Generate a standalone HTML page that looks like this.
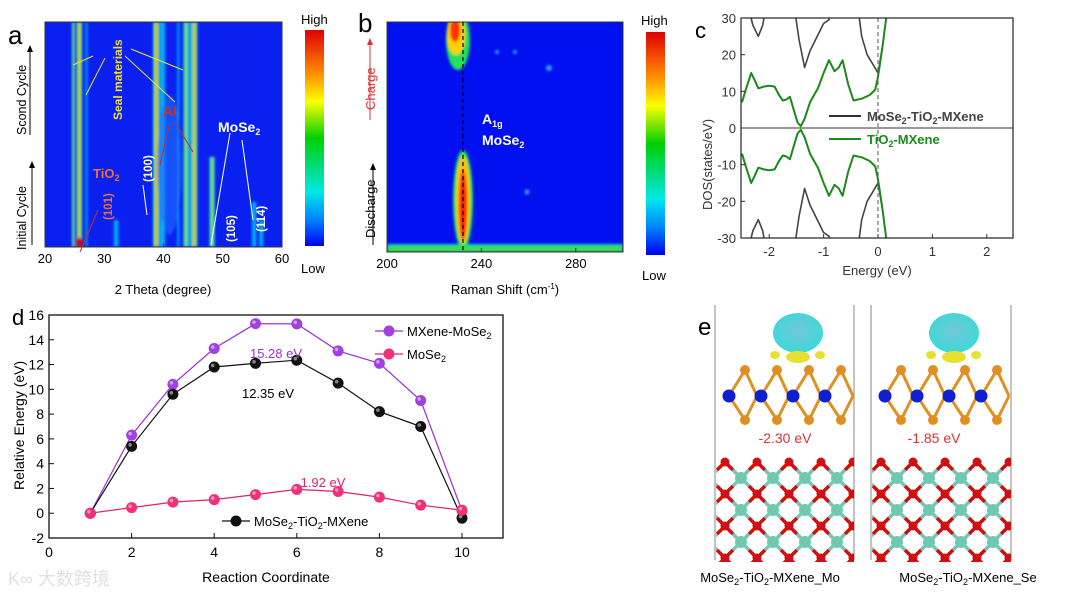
<!DOCTYPE html>
<html><head><meta charset="utf-8">
<style>
body{margin:0;background:#fff;width:1080px;height:597px;overflow:hidden;font-family:"Liberation Sans","Noto Sans CJK SC",sans-serif}
svg text{font-family:"Liberation Sans","Noto Sans CJK SC",sans-serif}
</style></head>
<body>
<svg id="fig" width="1080" height="597" viewBox="0 0 1080 597" xmlns="http://www.w3.org/2000/svg">
<defs>
<linearGradient id="cbar" x1="0" y1="0" x2="0" y2="1">
<stop offset="0" stop-color="#e00000"/><stop offset="0.2" stop-color="#ff8c00"/><stop offset="0.33" stop-color="#ffff00"/><stop offset="0.5" stop-color="#00d000"/><stop offset="0.75" stop-color="#00e8e8"/><stop offset="0.88" stop-color="#0080ff"/><stop offset="1" stop-color="#0000f0"/>
</linearGradient>
<linearGradient id="hot" x1="0" y1="0" x2="1" y2="0">
<stop offset="0" stop-color="#00d0ff"/><stop offset="0.25" stop-color="#40ff40"/><stop offset="0.4" stop-color="#ffd000"/><stop offset="0.5" stop-color="#e00000"/><stop offset="0.6" stop-color="#ffd000"/><stop offset="0.75" stop-color="#40ff40"/><stop offset="1" stop-color="#00d0ff"/>
</linearGradient>
<linearGradient id="warm" x1="0" y1="0" x2="1" y2="0">
<stop offset="0" stop-color="#00c0ff"/><stop offset="0.35" stop-color="#40e060"/><stop offset="0.5" stop-color="#e0e000"/><stop offset="0.65" stop-color="#40e060"/><stop offset="1" stop-color="#00c0ff"/>
</linearGradient>
<linearGradient id="cyan" x1="0" y1="0" x2="1" y2="0">
<stop offset="0" stop-color="#0040ff"/><stop offset="0.5" stop-color="#00d8f0"/><stop offset="1" stop-color="#0040ff"/>
</linearGradient>
<radialGradient id="iso" cx="0.5" cy="0.45" r="0.55"><stop offset="0" stop-color="#70c8d8"/><stop offset="1" stop-color="#3ed8d8"/></radialGradient>
<filter id="blur"><feGaussianBlur stdDeviation="1.2"/></filter>
<clipPath id="clipA"><rect x="45" y="22" width="237" height="225"/></clipPath>
<clipPath id="clipB"><rect x="387" y="22" width="236" height="230"/></clipPath>
<clipPath id="clipC"><rect x="741" y="18" width="272" height="220"/></clipPath>
<clipPath id="clipE0"><rect x="716" y="450" width="138" height="112"/></clipPath>
<clipPath id="clipE1"><rect x="872" y="450" width="139" height="112"/></clipPath>
</defs>

<!-- ================= Panel a ================= -->
<g id="panelA">
<text x="8" y="44" font-size="26">a</text>
<rect x="45" y="22" width="237" height="225" fill="#0a20f0"/>
<g id="streaksA" clip-path="url(#clipA)" filter="url(#blur)"></g>
<rect x="45" y="22" width="237" height="225" fill="none" stroke="#333" stroke-width="1"/>
<g id="axisA"></g>
<text x="163" y="294" font-size="13" text-anchor="middle">2 Theta (degree)</text>
<text transform="translate(26,250) rotate(-90)" font-size="12.5">Initial Cycle</text>
<text transform="translate(26,135) rotate(-90)" font-size="12.5">Scond Cycle</text>
<line x1="32" y1="245" x2="32" y2="168" stroke="#000" stroke-width="1"/><polygon points="29,168 35,168 32,161" fill="#000"/>
<line x1="30" y1="135" x2="30" y2="52" stroke="#000" stroke-width="1"/><polygon points="27,52 33,52 30,45" fill="#000"/>
<g stroke="#e8e040" stroke-width="1" fill="#e8e040">
<line x1="73" y1="65" x2="93" y2="56"/><line x1="86" y1="95" x2="105" y2="58"/><line x1="183" y1="70" x2="131" y2="49"/><line x1="175" y1="102" x2="125" y2="56"/>
</g>
<text transform="translate(122,120) rotate(-90)" font-size="12" font-weight="bold" fill="#f0e030">Seal materials</text>
<text x="163" y="116" font-size="14" font-weight="bold" fill="#d03020">Al</text>
<g stroke="#c03028" stroke-width="1"><line x1="160" y1="165" x2="170" y2="122"/><line x1="193" y1="152" x2="175" y2="122"/><line x1="80" y1="252" x2="98" y2="210"/></g>
<text x="93" y="178" font-size="13" font-weight="bold" fill="#f07030">TiO<tspan font-size="9" dy="3">2</tspan></text>
<text transform="translate(112,220) rotate(-90)" font-size="11.5" font-weight="bold" fill="#f07030">(101)</text>
<text transform="translate(152,182) rotate(-90)" font-size="11.5" font-weight="bold" fill="#fff">(100)</text>
<text x="218" y="132" font-size="14" font-weight="bold" fill="#fff">MoSe<tspan font-size="9" dy="3">2</tspan></text>
<text transform="translate(235,242) rotate(-90)" font-size="11.5" font-weight="bold" fill="#fff">(105)</text>
<text transform="translate(265,232) rotate(-90)" font-size="11.5" font-weight="bold" fill="#fff">(114)</text>
<g stroke="#fff" stroke-width="1"><line x1="147" y1="215" x2="143" y2="185"/><line x1="211" y1="245" x2="230" y2="133"/><line x1="253" y1="220" x2="242" y2="140"/></g>
<rect x="305" y="30" width="19" height="216" fill="url(#cbar)"/>
<text x="301" y="24" font-size="13">High</text>
<text x="301" y="273" font-size="13">Low</text>
</g>

<!-- ================= Panel b ================= -->
<g id="panelB">
<text x="358" y="32" font-size="26">b</text>
<rect x="387" y="22" width="236" height="230" fill="#0010f0"/>
<g clip-path="url(#clipB)" filter="url(#blur)">
<rect x="387" y="244" width="236" height="8" fill="#20d0a0"/>
<rect x="387" y="247" width="236" height="5" fill="#40e040"/>
<ellipse cx="458" cy="40" rx="12" ry="30" fill="#20e060"/>
<ellipse cx="456" cy="35" rx="9" ry="20" fill="#ffd000"/>
<ellipse cx="455" cy="30" rx="5" ry="12" fill="#ff3000"/>
<ellipse cx="463" cy="200" rx="10" ry="50" fill="#20e060"/>
<ellipse cx="463" cy="200" rx="7" ry="44" fill="#ffc000"/>
<ellipse cx="463" cy="205" rx="4" ry="35" fill="#ff2000"/>
<circle cx="497" cy="52" r="2" fill="#30a0ff"/><circle cx="515" cy="52" r="2" fill="#30a0ff"/><circle cx="549" cy="68" r="3" fill="#30a0ff"/><circle cx="527" cy="192" r="2.5" fill="#30a0ff"/>
</g>
<rect x="387" y="22" width="236" height="230" fill="none" stroke="#333"/>
<line x1="463" y1="22" x2="463" y2="250" stroke="#000" stroke-width="1.2" stroke-dasharray="4,3"/>
<g id="axisB"></g>
<text x="505" y="294" font-size="13" text-anchor="middle">Raman Shift (cm<tspan font-size="8" dy="-5">-1</tspan><tspan dy="5">)</tspan></text>
<text x="482" y="124" font-size="14" font-weight="bold" fill="#fff">A<tspan font-size="9" dy="3">1g</tspan></text>
<text x="482" y="145" font-size="14" font-weight="bold" fill="#fff">MoSe<tspan font-size="9" dy="3">2</tspan></text>
<text transform="translate(375,110) rotate(-90)" font-size="13" fill="#e03030">Charge</text>
<line x1="370" y1="120" x2="370" y2="45" stroke="#e03030"/><polygon points="367,45 373,45 370,38" fill="#e03030"/>
<text transform="translate(375,238) rotate(-90)" font-size="13">Discharge</text>
<line x1="373" y1="245" x2="373" y2="170" stroke="#000"/><polygon points="370,170 376,170 373,163" fill="#000"/>
<rect x="646" y="32" width="19" height="223" fill="url(#cbar)"/>
<text x="641" y="25" font-size="13">High</text>
<text x="642" y="280" font-size="13">Low</text>
</g>

<!-- ================= Panel c ================= -->
<g id="panelC">
<text x="695" y="38" font-size="22">c</text>
<g id="curvesC" clip-path="url(#clipC)"></g>
<rect x="741" y="18" width="272" height="220" fill="none" stroke="#222" stroke-width="1.2"/>
<g id="axisC"></g>
<text transform="translate(712,210) rotate(-90)" font-size="13" fill="#333">DOS(states/eV)</text>
<text x="877" y="275" font-size="13" text-anchor="middle" fill="#333">Energy (eV)</text>
<line x1="829" y1="116" x2="861" y2="116" stroke="#333" stroke-width="2"/>
<text x="867" y="121" font-size="13" font-weight="bold" fill="#444">MoSe<tspan font-size="9" dy="3">2</tspan><tspan dy="-3">-TiO</tspan><tspan font-size="9" dy="3">2</tspan><tspan dy="-3">-MXene</tspan></text>
<line x1="829" y1="139" x2="861" y2="139" stroke="#1a8a1a" stroke-width="2"/>
<text x="867" y="144" font-size="13" font-weight="bold" fill="#1a8a1a">TiO<tspan font-size="9" dy="3">2</tspan><tspan dy="-3">-MXene</tspan></text>
</g>

<!-- ================= Panel d ================= -->
<g id="panelD">
<text x="12" y="325" font-size="22">d</text>
<rect x="49" y="315" width="454" height="223" fill="none" stroke="#111" stroke-width="1.3"/>
<g id="axisD"></g>
<g id="seriesD"></g>
<text transform="translate(24,490) rotate(-90)" font-size="14">Relative Energy (eV)</text>
<text x="266" y="582" font-size="14" text-anchor="middle">Reaction Coordinate</text>
<text x="276" y="358" font-size="13" fill="#a030c0" text-anchor="middle">15.28 eV</text>
<text x="268" y="398" font-size="13" text-anchor="middle">12.35 eV</text>
<text x="323" y="487" font-size="13" fill="#e0206a" text-anchor="middle">1.92 eV</text>
<g>
<line x1="375" y1="331" x2="403" y2="331" stroke="#9a30d0" stroke-width="1.2"/><circle cx="389" cy="331" r="5.5" fill="#a040e0"/>
<text x="407" y="336" font-size="13">MXene-MoSe<tspan font-size="9" dy="3">2</tspan></text>
<line x1="375" y1="354" x2="403" y2="354" stroke="#e0206a" stroke-width="1.2"/><circle cx="389" cy="354" r="5.5" fill="#f0307a"/>
<text x="407" y="359" font-size="13">MoSe<tspan font-size="9" dy="3">2</tspan></text>
<line x1="222" y1="521" x2="250" y2="521" stroke="#111" stroke-width="1.2"/><circle cx="236" cy="521" r="5.5" fill="#111"/>
<text x="254" y="526" font-size="13">MoSe<tspan font-size="9" dy="3">2</tspan><tspan dy="-3">-TiO</tspan><tspan font-size="9" dy="3">2</tspan><tspan dy="-3">-MXene</tspan></text>
</g>
</g>

<!-- ================= Panel e ================= -->
<g id="panelE">
<text x="698" y="335" font-size="24">e</text>
<line x1="715" y1="305" x2="715" y2="560" stroke="#888"/><line x1="854" y1="305" x2="854" y2="560" stroke="#888"/>
<line x1="871" y1="305" x2="871" y2="560" stroke="#888"/><line x1="1011" y1="305" x2="1011" y2="560" stroke="#888"/>
<g id="structE"></g>
<text x="785" y="443" font-size="14" fill="#e03030" text-anchor="middle">-2.30 eV</text>
<text x="934" y="443" font-size="14" fill="#e03030" text-anchor="middle">-1.85 eV</text>
<text x="770" y="582" font-size="13" text-anchor="middle">MoSe<tspan font-size="9" dy="3">2</tspan><tspan dy="-3">-TiO</tspan><tspan font-size="9" dy="3">2</tspan><tspan dy="-3">-MXene_Mo</tspan></text>
<text x="968" y="582" font-size="13" text-anchor="middle">MoSe<tspan font-size="9" dy="3">2</tspan><tspan dy="-3">-TiO</tspan><tspan font-size="9" dy="3">2</tspan><tspan dy="-3">-MXene_Se</tspan></text>
</g>

<text x="8" y="585" font-size="18" fill="#e0e0e0">K∞ 大数跨境</text>
</svg>

<script>
const NS="http://www.w3.org/2000/svg";
function mk(parent,tag,attrs){const e=document.createElementNS(NS,tag);for(const k in attrs)e.setAttribute(k,attrs[k]);parent.appendChild(e);return e;}

// ---------- Panel d data ----------
const coordD=[1,2,3,4,5,6,7,8,9,10];
const mxeneMoSe2=[0,6.3,10.4,13.3,15.3,15.28,13.1,12.1,9.1,0.2];
const mose2TiO2MXene=[0,5.4,9.6,11.8,12.1,12.35,10.5,8.2,7.0,-0.4];
const mose2Only=[0,0.45,0.9,1.1,1.5,1.92,1.75,1.3,0.65,0.25];
const xTicksD=[0,2,4,6,8,10];
const yTicksD=[-2,0,2,4,6,8,10,12,14,16];

// ---------- Panel c data ----------
const energyGreen=[-2.5,-2.42,-2.33,-2.25,-2.2,-2.1,-2.0,-1.9,-1.82,-1.75,-1.68,-1.62,-1.55,-1.48,-1.42,-1.35,-1.25,-1.1,-1.0,-0.9,-0.8,-0.72,-0.65,-0.55,-0.45,-0.3,-0.15,-0.05,0,0.08,0.15];
const dosGreen=[7,11,15,12.5,10.8,11.3,11.5,11.3,9,7.5,7.8,8.5,5,1.5,0.5,2.5,7,11,15,18.5,15.5,16.5,18.5,12,7.5,8,9,10.5,14,22,30];
const energyBlack=[-2.4,-2.3,-2.2,-2.12,-2.05,-1.55,-1.45,-1.35,-1.25,-1.15,-1.0,-0.9,-0.85,-0.38,-0.3,-0.2,-0.1,0,0.08];
const dosBlack=[34,28,25,28,34,34,24,16.5,21,24,28.5,29.5,34,34,25,20,17.5,15,22];
const xTicksC=[-2,-1,0,1,2];
const yTicksC=[-30,-20,-10,0,10,20,30];

// ---------- Panel a/b tick data ----------
const xTicksA=[20,30,40,50,60];
const xTicksB=[200,240,280];
const streakPos=[24.8,25.8,27.0,32.0,38.8,39.8,42.5,43.8,45.2,48.2,55.3,56.5,44.5];
const streakWidth=[0.5,0.9,0.4,0.9,1.1,1.2,0.4,0.9,1.0,0.9,0.9,0.8,0.6];
const streakType=["warm","hot","cyan","cyan","hot","cyan","cyan","warm","hot","warm","cyan","cyan","cyan"];
const streakFrom=[0,0,0,0,0,0,0,0,0,0,0,0,0];
const streakTo=[1,1,1,0.12,1,1,1,1,1,0.4,0.2,0.12,1];

const xA=t=>45+(t-20)*237/40;
const xB=r=>387+(r-200)*236/100;
const xC=e=>878+e*54.4;
const yC=d=>128-d*220/60;
const xD=v=>49+v*41.3;
const yD=v=>538-(v+2)*223/18;

const sg=document.getElementById('streaksA');
streakPos.forEach((p,i)=>{
  const w=streakWidth[i]*237/40;
  const yTop=247-streakTo[i]*225, yBot=247-streakFrom[i]*225;
  const r=mk(sg,'rect',{x:xA(p)-w/2,y:yTop,width:w,height:yBot-yTop,fill:'url(#'+streakType[i]+')'});
  
  
});
mk(sg,'ellipse',{cx:xA(41),cy:165,rx:12,ry:70,fill:'#2070ff',opacity:0.6});
mk(sg,'ellipse',{cx:xA(25.8),cy:243,rx:3,ry:6,fill:'#e00000'});

function xTicks(gid,ticks,fx,y0,len,fs,color){
  const g=document.getElementById(gid);
  ticks.forEach(t=>{
    mk(g,'line',{x1:fx(t),y1:y0,x2:fx(t),y2:y0-len,stroke:color||'#333'});
    const tx=mk(g,'text',{x:fx(t),y:y0+16,'font-size':fs,'text-anchor':'middle',fill:color||'#000'});
    tx.textContent=t;
    
    
  });
}
xTicks('axisA',xTicksA,xA,247,4,13);
xTicks('axisB',xTicksB,xB,252,4,13);

const gc=document.getElementById('curvesC');
function poly(xs,ys,sign,color,w,name){
  const pts=xs.map((e,i)=>xC(e).toFixed(1)+','+yC(sign*ys[i]).toFixed(1)).join(' ');
  const p=mk(gc,'polyline',{points:pts,fill:'none',stroke:color,'stroke-width':w,'stroke-linejoin':'round'});
  
  
}
poly(energyBlack,dosBlack,1,'#444',1.6,'dos-mose2-tio2-mxene-up');
poly(energyBlack,dosBlack,-1,'#444',1.6,'dos-mose2-tio2-mxene-down');
poly(energyGreen,dosGreen,1,'#1a8a1a',2,'dos-tio2-mxene-up');
poly(energyGreen,dosGreen,-1,'#1a8a1a',2,'dos-tio2-mxene-down');
mk(gc,'line',{x1:741,y1:yC(0),x2:1013,y2:yC(0),stroke:'#333','stroke-width':1});
mk(gc,'line',{x1:xC(0),y1:18,x2:xC(0),y2:238,stroke:'#555','stroke-dasharray':'4,3'});
const ac=document.getElementById('axisC');
xTicksC.forEach(t=>{
  mk(ac,'line',{x1:xC(t),y1:238,x2:xC(t),y2:234,stroke:'#333'});
  const tx=mk(ac,'text',{x:xC(t),y:256,'font-size':13,'text-anchor':'middle',fill:'#333'});
  tx.textContent=t;
  
  
});
yTicksC.forEach(t=>{
  mk(ac,'line',{x1:741,y1:yC(t),x2:745,y2:yC(t),stroke:'#333'});
  const tx=mk(ac,'text',{x:736,y:yC(t)+5,'font-size':13,'text-anchor':'end',fill:'#333'});
  tx.textContent=t;
  
  
});

const ad=document.getElementById('axisD');
xTicksD.forEach(t=>{
  mk(ad,'line',{x1:xD(t),y1:538,x2:xD(t),y2:533,stroke:'#111'});
  const tx=mk(ad,'text',{x:xD(t),y:557,'font-size':14,'text-anchor':'middle'});
  tx.textContent=t;
  
  
});
yTicksD.forEach(t=>{
  mk(ad,'line',{x1:49,y1:yD(t),x2:54,y2:yD(t),stroke:'#111'});
  const tx=mk(ad,'text',{x:44,y:yD(t)+5,'font-size':14,'text-anchor':'end'});
  tx.textContent=t;
  
  
});
const sd=document.getElementById('seriesD');
function series(vals,line,fill,name){
  const pts=coordD.map((c,i)=>xD(c).toFixed(1)+','+yD(vals[i]).toFixed(1)).join(' ');
  const p=mk(sd,'polyline',{points:pts,fill:'none',stroke:line,'stroke-width':1.2});
  
  
  coordD.forEach((c,i)=>{
    const m=mk(sd,'circle',{cx:xD(c),cy:yD(vals[i]),r:5.5,fill:fill});
    
    
    mk(sd,'circle',{cx:xD(c)-1.5,cy:yD(vals[i])-1.5,r:1.8,fill:'#fff',opacity:0.5});
  });
}
series(mxeneMoSe2,'#9a30d0','#a040e0','mxene-mose2');
series(mose2TiO2MXene,'#111','#111','mose2-tio2-mxene');
series(mose2Only,'#e0206a','#f0307a','mose2');

// Panel e structures (decorative)
const se=document.getElementById('structE');
[0,1].forEach(k=>{
  const ox=k?871:715;
  const g=mk(se,'g',{});
  
  
  mk(g,'ellipse',{cx:ox+83,cy:333,rx:25,ry:20,fill:'url(#iso)'});
  mk(g,'ellipse',{cx:ox+83,cy:357,rx:12,ry:6,fill:'#e8e030'});
  mk(g,'ellipse',{cx:ox+60,cy:355,rx:5,ry:4,fill:'#e8e030'});
  mk(g,'ellipse',{cx:ox+105,cy:355,rx:5,ry:4,fill:'#e8e030'});
  // MoSe2 layer: Se top row, Mo middle, Se bottom
  for(let i=0;i<4;i++){
    const x=ox+22+i*32;
    mk(g,'line',{x1:x+8,y1:370,x2:x+20,y2:396,stroke:'#e09020','stroke-width':3});
    mk(g,'line',{x1:x+20,y1:396,x2:x+8,y2:420,stroke:'#e09020','stroke-width':3});
    mk(g,'line',{x1:x+8,y1:370,x2:x-8,y2:396,stroke:'#e09020','stroke-width':3});
    mk(g,'line',{x1:x-8,y1:396,x2:x+8,y2:420,stroke:'#e09020','stroke-width':3});
  }
  for(let i=0;i<4;i++){
    const x=ox+22+i*32;
    mk(g,'circle',{cx:x+8,cy:370,r:5,fill:'#e09020'});
    mk(g,'circle',{cx:x+8,cy:420,r:5,fill:'#e09020'});
    mk(g,'circle',{cx:x-8+ (i===0?0:0),cy:396,r:6.5,fill:'#1020d0'});
  }
  // TiO2 diamond lattice
  const lat=mk(g,'g',{'clip-path':'url(#clipE'+k+')'});
  const pts=[];
  for(let j=0;j<7;j++) for(let i=-1;i<10;i++){ if((i+j)%2) continue; pts.push([ox+10+i*16,462+j*16,i,j]); }
  pts.forEach(p=>{
    [[16,16],[-16,16]].forEach(d=>{
      mk(lat,'line',{x1:p[0],y1:p[1],x2:p[0]+d[0]/2,y2:p[1]+d[1]/2,stroke:(p[2]%2===0?'#d01010':'#70c8b0'),'stroke-width':3.5});
      mk(lat,'line',{x1:p[0]+d[0]/2,y1:p[1]+d[1]/2,x2:p[0]+d[0],y2:p[1]+d[1],stroke:(p[2]%2===0?'#70c8b0':'#d01010'),'stroke-width':3.5});
    });
  });
  pts.forEach(p=>{
    const red=(p[2]%2===0);
    mk(lat,'circle',{cx:p[0],cy:p[1],r:red?4.5:6,fill:red?'#d01010':'#70c8b0'});
  });
});
</script>
</body></html>
